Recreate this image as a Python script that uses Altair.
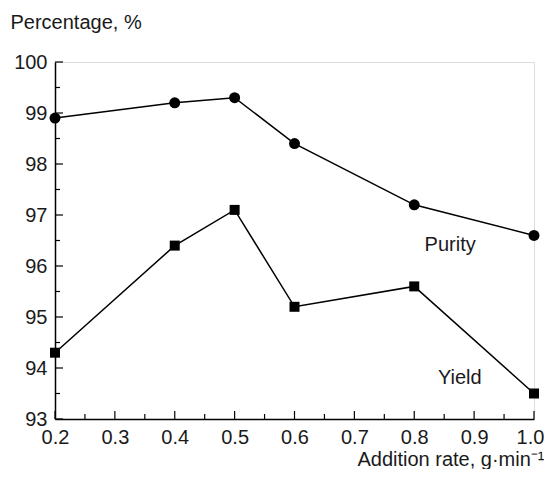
import altair as alt
import pandas as pd

rate = [0.2, 0.4, 0.5, 0.6, 0.8, 1.0]
purity = [98.9, 99.2, 99.3, 98.4, 97.2, 96.6]
yield_ = [94.3, 96.4, 97.1, 95.2, 95.6, 93.5]

y_major = [93, 94, 95, 96, 97, 98, 99, 100]
y_minor = [93.5, 94.5, 95.5, 96.5, 97.5, 98.5, 99.5]
x_major = [0.2, 0.3, 0.4, 0.5, 0.6, 0.7, 0.8, 0.9, 1.0]
x_minor = [0.25, 0.35, 0.45, 0.55, 0.65, 0.75, 0.85, 0.95]

labels = ["Purity", "Yield"]
label_x = [0.86, 0.876]
label_y = [96.3, 93.69]

FONT = "Liberation Sans"
FS = 20
TXT = "#1a1a1a"
W, H = 479, 357

df = pd.DataFrame({"rate": rate + rate,
                   "value": purity + yield_,
                   "series": ["Purity"] * len(rate) + ["Yield"] * len(rate)})

xs = alt.Scale(domain=[0.2, 1.0], nice=False, zero=False)
ys = alt.Scale(domain=[93, 100], nice=False, zero=False)

xaxis = alt.Axis(values=x_major, format=".1f", tickSize=0, labelPadding=8,
                 labelFontSize=FS, labelFont=FONT, labelColor=TXT,
                 labelOffset={"condition": {"test": "datum.value >= 0.99", "value": -4}, "value": 0},
                 domainColor="black", domainWidth=1.5, grid=False,
                 title="Addition rate, g·min⁻¹", titleFont=FONT, titleFontSize=FS,
                 titleFontWeight="normal", titleColor=TXT,
                 titleAlign="right", titleX=W + 10, titleY=46,
                 titleBaseline="alphabetic", labelFlush=False)
yaxis = alt.Axis(values=y_major, format="d", tickSize=0, labelPadding=8,
                 labelFontSize=FS, labelFont=FONT, labelColor=TXT,
                 domainColor="black", domainWidth=1.5, grid=False,
                 title="Percentage, %", titleFont=FONT, titleFontSize=FS,
                 titleFontWeight="normal", titleColor=TXT, titleAngle=0,
                 titleAlign="left", titleX=-45, titleY=-34,
                 titleBaseline="alphabetic", labelFlush=False)

base = alt.Chart(df)

lines = base.mark_line(color="black", strokeWidth=1.5).encode(
    x=alt.X("rate:Q", scale=xs, axis=xaxis),
    y=alt.Y("value:Q", scale=ys, axis=yaxis),
    detail="series:N")

circles = alt.Chart(df[df.series == "Purity"]).mark_point(
    shape="circle", filled=True, color="black", size=120, opacity=1).encode(
    x=alt.X("rate:Q", scale=xs), y=alt.Y("value:Q", scale=ys))

squares = alt.Chart(df[df.series == "Yield"]).mark_point(
    shape="square", filled=True, color="black", size=100, opacity=1).encode(
    x=alt.X("rate:Q", scale=xs), y=alt.Y("value:Q", scale=ys))

ymaj = alt.Chart(pd.DataFrame({"v": y_major})).mark_rule(color="black", strokeWidth=1.2).encode(
    y=alt.Y("v:Q", scale=ys), x=alt.value(0), x2=alt.value(8))
ymin = alt.Chart(pd.DataFrame({"v": y_minor})).mark_rule(color="black", strokeWidth=1.2).encode(
    y=alt.Y("v:Q", scale=ys), x=alt.value(0), x2=alt.value(5))
xmaj = alt.Chart(pd.DataFrame({"v": x_major})).mark_rule(color="black", strokeWidth=1.2).encode(
    x=alt.X("v:Q", scale=xs), y=alt.value(H), y2=alt.value(H - 8))
xmin = alt.Chart(pd.DataFrame({"v": x_minor})).mark_rule(color="black", strokeWidth=1.2).encode(
    x=alt.X("v:Q", scale=xs), y=alt.value(H), y2=alt.value(H - 5))

ann = alt.Chart(pd.DataFrame({"t": labels, "x": label_x, "y": label_y})).mark_text(
    font=FONT, fontSize=FS, color=TXT, align="center", baseline="alphabetic").encode(
    x=alt.X("x:Q", scale=xs), y=alt.Y("y:Q", scale=ys), text="t:N")

chart = alt.layer(lines, ymaj, ymin, xmaj, xmin, circles, squares, ann).properties(
    width=W, height=H,
    autosize=alt.AutoSizeParams(type="none"),
    padding={"left": 47, "top": 54, "right": 10, "bottom": 50},
).configure_view(stroke="black", strokeWidth=1.5).configure(background="white")

chart.save("out.html", embed_options={"renderer": "svg", "actions": False})
